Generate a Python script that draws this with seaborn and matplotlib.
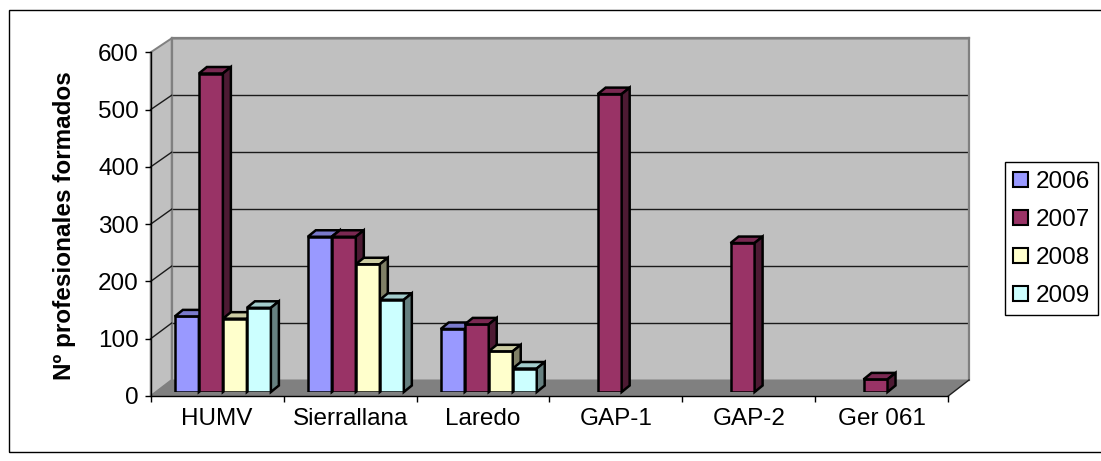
import numpy as np
import pandas as pd
import matplotlib
matplotlib.use("Agg")
import matplotlib.pyplot as plt
from matplotlib.patches import Polygon, Rectangle, Patch
from matplotlib.lines import Line2D
from matplotlib.colors import to_rgb
import seaborn as sns

# ---- data -------------------------------------------------------------
centros = ["HUMV", "Sierrallana", "Laredo", "GAP-1", "GAP-2", "Ger 061"]
anios = ["2006", "2007", "2008", "2009"]
v2006 = [132, 271, 110, 0, 0, 0]
v2007 = [556, 271, 118, 520, 260, 22]
v2008 = [128, 223, 71, 0, 0, 0]
v2009 = [147, 161, 41, 0, 0, 0]
colores = ["#9999FF", "#993366", "#FFFFCC", "#CCFFFF"]
yticks = [0, 100, 200, 300, 400, 500, 600]

df = pd.DataFrame({
    "centro": centros * len(anios),
    "anio": sum([[a] * len(centros) for a in anios], []),
    "valor": v2006 + v2007 + v2008 + v2009,
})
df = df[df["valor"] > 0]

plt.rcParams["font.family"] = ["Liberation Sans", "DejaVu Sans"]
FS = 17.5

W, H = 1101, 461
fig = plt.figure(figsize=(W / 100, H / 100), dpi=100)
fig.patch.set_facecolor("white")


def box(x0, top, x1, bottom):
    """Figure-fraction rectangle from pixel edges measured from the top-left."""
    return [x0 / W, 1 - bottom / H, (x1 - x0) / W, (bottom - top) / H]


# back wall, front (axis) plane and bar plane
ax_b = fig.add_axes(box(171.7, 38.3, 969.0, 380.0), zorder=0)
ax_f = fig.add_axes(box(150.7, 52.3, 948.3, 396.0), zorder=1)
ax = fig.add_axes(box(156.4, 48.3, 954.0, 392.0), zorder=2)

# back wall
ax_b.set_facecolor("#C0C0C0")
ax_b.set_xlim(-0.5, 5.5)
ax_b.set_ylim(0, 600)
ax_b.set_yticks(yticks)
ax_b.set_xticks([])
ax_b.tick_params(left=False, labelleft=False, bottom=False, labelbottom=False)
ax_b.yaxis.grid(True, color="#1a1a1a", linewidth=1.0)
ax_b.set_axisbelow(True)
for side in ["top", "right", "left"]:
    ax_b.spines[side].set_color("#808080")
    ax_b.spines[side].set_linewidth(1.6)
ax_b.spines["bottom"].set_visible(False)

pf = ax_f.get_position()
pb = ax_b.get_position()

# left side wall
fig.add_artist(Polygon([(pf.x0, pf.y0), (pf.x0, pf.y1), (pb.x0, pb.y1), (pb.x0, pb.y0)],
                       closed=True, facecolor="#C0C0C0", edgecolor="#808080",
                       linewidth=1.4, transform=fig.transFigure, zorder=0.5))
for v in yticks[1:-1]:
    yf = pf.y0 + v / 600 * pf.height
    yb = pb.y0 + v / 600 * pb.height
    fig.add_artist(Line2D([pf.x0, pb.x0], [yf, yb], color="#1a1a1a", linewidth=1.0,
                          transform=fig.transFigure, zorder=0.6))

# floor
fig.add_artist(Polygon([(pf.x0, pf.y0), (pf.x1, pf.y0), (pb.x1, pb.y0), (pb.x0, pb.y0)],
                       closed=True, facecolor="#808080", edgecolor="none",
                       transform=fig.transFigure, zorder=0.7))
fig.add_artist(Line2D([pf.x1, pb.x1], [pf.y0, pb.y0], color="#202020", linewidth=1.0,
                      transform=fig.transFigure, zorder=0.8))

# front axis frame with ticks and labels
ax_f.set_facecolor("none")
ax_f.set_xlim(-0.5, 5.5)
ax_f.set_ylim(0, 600)
for side in ["top", "right"]:
    ax_f.spines[side].set_visible(False)
for side in ["left", "bottom"]:
    ax_f.spines[side].set_color("black")
    ax_f.spines[side].set_linewidth(1.0)
ax_f.set_yticks(yticks)
ax_f.set_yticklabels([str(v) for v in yticks], fontsize=FS)
ax_f.tick_params(axis="y", length=4.5, width=1.0, pad=4.1, color="black")
ax_f.set_xticks(np.arange(-0.5, 6.0, 1.0))
ax_f.set_xticklabels([])
ax_f.set_xticks(np.arange(len(centros)), minor=True)
ax_f.set_xticklabels(centros, minor=True, fontsize=FS)
ax_f.tick_params(axis="x", which="major", length=4.2, width=1.0, color="black")
ax_f.tick_params(axis="x", which="minor", length=0, pad=8.9)

# bars
ax.set_facecolor("none")
sns.barplot(data=df, x="centro", y="valor", hue="anio", order=centros,
            hue_order=anios, palette=dict(zip(anios, colores)), width=0.7224,
            saturation=1, edgecolor="black", linewidth=1.8, legend=False,
            dodge=True, errorbar=None, ax=ax)
ax.set_xlim(-0.5, 5.5)
ax.set_ylim(0, 600)
ax.set_axis_off()

# depth faces on each bar (top and right side), stacked left to right
kx = (954.0 - 156.4) / 6.0
ky = (392.0 - 48.3) / 600.0
ddx, ddy = 8.0 / kx, 6.5 / ky
bars = sorted([p for p in ax.patches if isinstance(p, Rectangle)], key=lambda p: p.get_x())
for i, p in enumerate(bars):
    z = 3 + i * 0.01
    p.set_zorder(z)
    p.set_joinstyle("miter")
    x0, w, h = p.get_x(), p.get_width(), p.get_height()
    rgb = np.array(to_rgb(p.get_facecolor()))
    top = Polygon([(x0, h), (x0 + ddx, h + ddy), (x0 + w + ddx, h + ddy), (x0 + w, h)],
                  closed=True, facecolor=rgb * 0.8, edgecolor="black", linewidth=1.8,
                  joinstyle="miter", zorder=z, clip_on=False)
    side = Polygon([(x0 + w, 0), (x0 + w, h), (x0 + w + ddx, h + ddy), (x0 + w + ddx, ddy)],
                   closed=True, facecolor=rgb * 0.5, edgecolor="black", linewidth=1.8,
                   joinstyle="miter", zorder=z, clip_on=False)
    ax.add_patch(top)
    ax.add_patch(side)

# axis title
fig.text(65 / W, 1 - 226 / H, "Nº profesionales formados", rotation=90,
         ha="center", va="center", fontsize=FS, fontweight="bold")

# legend
handles = [Patch(facecolor=c, edgecolor="black", linewidth=1.5) for c in colores]
leg = fig.legend(handles, anios, loc="upper left",
                 bbox_to_anchor=(1005 / W, 1 - 162.5 / H), bbox_transform=fig.transFigure,
                 fontsize=FS, frameon=True, fancybox=False, framealpha=1,
                 edgecolor="black", handlelength=0.62, handleheight=0.58,
                 handletextpad=0.3, labelspacing=0.66, borderpad=0.34, borderaxespad=0)
leg.get_frame().set_linewidth(1.0)

# chart frame
fig.add_artist(Rectangle((8.5 / W, 1 - 452 / H), (1110 - 8.5) / W, (452 - 10.5) / H,
                         fill=False, edgecolor="black", linewidth=1.0,
                         transform=fig.transFigure, zorder=10))

fig.savefig("out.png", dpi=100)
